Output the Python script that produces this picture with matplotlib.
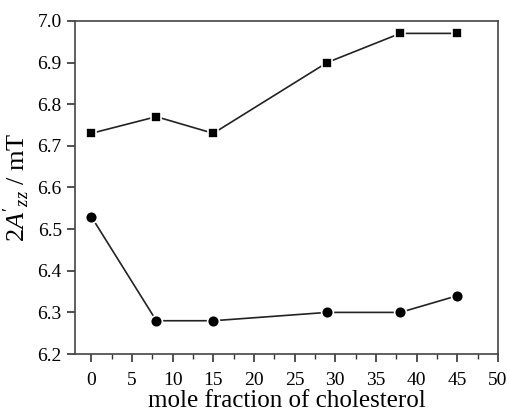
import matplotlib.pyplot as plt
from matplotlib.ticker import MultipleLocator

plt.rcParams["font.family"] = "Liberation Serif"
plt.rcParams["mathtext.fontset"] = "custom"
plt.rcParams["mathtext.rm"] = "Liberation Serif"
plt.rcParams["mathtext.it"] = "Liberation Serif:italic"

chol = [0, 8, 15, 29, 38, 45]
sq_vals = [6.73, 6.77, 6.73, 6.90, 6.97, 6.97]
circ_vals = [6.53, 6.28, 6.28, 6.30, 6.30, 6.34]

fig = plt.figure(figsize=(5.07, 4.18), dpi=100)
ax = fig.add_axes([0.148, 0.153, 0.834, 0.797])

ax.plot(chol, sq_vals, color="#222222", lw=1.2, marker="s", ms=7.5,
        mfc="black", mec="white", mew=1.2)
ax.plot(chol, circ_vals, color="#222222", lw=1.2, marker="o", ms=8.5,
        mfc="black", mec="white", mew=1.2)

ax.set_xlim(-2, 50)
ax.set_ylim(6.2, 7.0)
ax.xaxis.set_major_locator(MultipleLocator(5))
ax.xaxis.set_minor_locator(MultipleLocator(2.5))
ax.yaxis.set_major_locator(MultipleLocator(0.1))
ax.yaxis.set_major_formatter(plt.FormatStrFormatter("%.1f"))
ax.tick_params(which="both", direction="out", top=False, right=False,
               labelsize=14, color="#333333")
ax.tick_params(which="major", length=6, width=1.2)
ax.tick_params(axis="x", which="major", pad=7)
ax.tick_params(which="minor", length=3.5, width=1.0)
for s in ax.spines.values():
    s.set_color("#444444")
    s.set_linewidth(1.2)

ax.set_xlabel("mole fraction of cholesterol", fontsize=18, labelpad=1)
ax.set_ylabel(r"2$\mathit{A}'_{\mathit{zz}}$ / mT", fontsize=19, labelpad=4)

fig.savefig("out.png", dpi=100)
